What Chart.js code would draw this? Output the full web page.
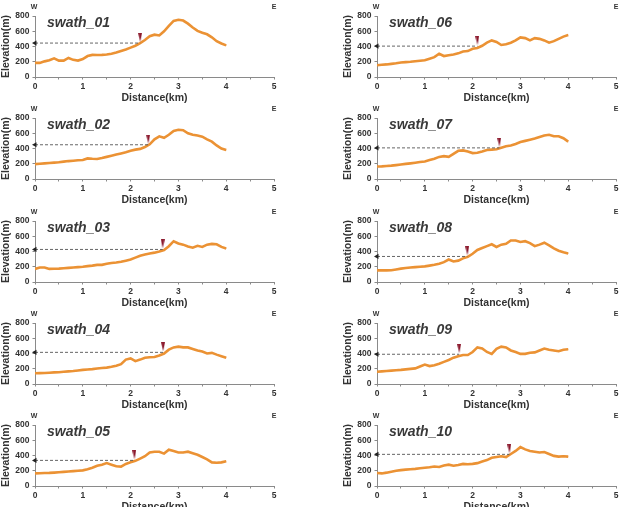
<!DOCTYPE html>
<html>
<head>
<meta charset="utf-8">
<script src="https://cdn.jsdelivr.net/npm/chart.js@4.4.1/dist/chart.umd.min.js"></script>
<style>
  body { margin: 0; background: #fff; width: 620px; height: 507px; overflow: hidden; position: relative; }
  canvas.panel { position: absolute; }
</style>
</head>
<body>
<script>
// Distance along the profile (km)
const distance = [0, 0.1, 0.2, 0.3, 0.4, 0.5, 0.6, 0.7, 0.8, 0.9, 1.0, 1.1, 1.2, 1.3, 1.4, 1.5, 1.6, 1.7, 1.8, 1.9, 2.0,
                  2.1, 2.2, 2.3, 2.4, 2.5, 2.6, 2.7, 2.8, 2.9, 3.0, 3.1, 3.2, 3.3, 3.4, 3.5, 3.6, 3.7, 3.8, 3.9, 4.0];

// Elevation (m) for each swath
const swath01 = [185, 185, 205, 220, 245, 215, 215, 250, 225, 215, 235, 275, 290, 288, 290, 295, 305, 320, 340, 360, 385,
                 410, 445, 485, 535, 555, 545, 600, 670, 735, 750, 740, 700, 650, 605, 580, 560, 520, 470, 440, 415];
const swath02 = [195, 200, 205, 210, 215, 220, 228, 235, 240, 245, 250, 270, 265, 262, 275, 290, 305, 320, 335, 350, 370,
                 385, 395, 420, 455, 520, 560, 540, 580, 630, 645, 640, 600, 580, 570, 555, 520, 490, 440, 400, 380];
const swath03 = [172, 190, 190, 172, 173, 175, 180, 185, 190, 195, 200, 208, 215, 225, 225, 240, 250, 255, 265, 280, 295,
                 320, 345, 360, 375, 385, 400, 420, 470, 535, 505, 490, 465, 450, 475, 460, 490, 500, 495, 460, 440];
const swath04 = [140, 142, 145, 148, 152, 155, 160, 165, 170, 178, 185, 190, 195, 203, 210, 215, 225, 240, 260, 320, 335,
                 300, 320, 345, 350, 355, 375, 400, 450, 480, 490, 480, 480, 460, 440, 425, 400, 408, 385, 365, 345];
const swath05 = [165, 167, 170, 172, 176, 180, 185, 190, 195, 200, 205, 220, 240, 265, 280, 300, 280, 260, 255, 290, 310,
                 330, 360, 390, 440, 450, 450, 425, 475, 460, 440, 440, 450, 430, 410, 380, 350, 310, 305, 310, 325];
const swath06 = [155, 160, 165, 172, 180, 190, 195, 200, 207, 213, 220, 240, 260, 305, 275, 285, 295, 310, 335, 340, 370,
                 380, 410, 450, 480, 460, 420, 430, 450, 480, 520, 510, 480, 510, 500, 480, 450, 470, 500, 530, 550];
const swath07 = [163, 165, 170, 175, 182, 190, 198, 205, 213, 222, 230, 248, 265, 290, 300, 290, 330, 370, 375, 360, 340,
                 345, 360, 380, 385, 390, 410, 430, 440, 460, 485, 500, 515, 530, 550, 570, 580, 560, 560, 535, 490];
const swath08 = [152, 152, 153, 155, 165, 175, 183, 190, 195, 200, 205, 215, 225, 240, 260, 295, 270, 280, 310, 330, 370,
                 420, 445, 470, 495, 460, 490, 500, 545, 545, 525, 535, 510, 470, 490, 515, 480, 440, 410, 390, 375];
const swath09 = [160, 165, 170, 175, 180, 185, 192, 198, 205, 230, 255, 235, 245, 265, 290, 315, 345, 365, 380, 380, 420,
                 480, 465, 420, 395, 460, 490, 480, 440, 420, 395, 395, 410, 415, 440, 465, 450, 440, 430, 450, 455];
const swath10 = [170, 165, 175, 188, 200, 208, 215, 220, 225, 232, 240, 245, 255, 250, 270, 280, 265, 275, 290, 285, 290,
                 300, 320, 340, 370, 380, 390, 380, 420, 460, 510, 480, 460, 450, 440, 445, 420, 395, 385, 390, 385];

const swathNames = ['swath_01', 'swath_02', 'swath_03', 'swath_04', 'swath_05',
                    'swath_06', 'swath_07', 'swath_08', 'swath_09', 'swath_10'];
const profiles = [swath01, swath02, swath03, swath04, swath05, swath06, swath07, swath08, swath09, swath10];

// Red marker position (km) and the elevation of the dashed arrow line (m)
const markerKm = [2.2, 2.37, 2.67, 2.68, 2.08, 2.1, 2.56, 1.89, 1.72, 2.77];
const arrowLevel = [445, 449, 427, 415, 336, 405, 408, 335, 390, 415];

const xTicks = [0, 1, 2, 3, 4, 5];
const yTicks = [0, 200, 400, 600, 800];

const FONT = "'Liberation Sans', Arial, sans-serif";
const TEXT = '#333';
const AXIS = '#8a8a8a';

// Narrow downward wedge used for the red marker
function makeWedge() {
    const c = document.createElement('canvas');
    c.width = 4; c.height = 9;
    const g = c.getContext('2d');
    g.fillStyle = '#8c1a2e';
    g.beginPath();
    g.moveTo(0, 0);
    g.lineTo(4, 0);
    g.lineTo(2, 9);
    g.closePath();
    g.fill();
    return c;
}
const wedge = makeWedge();

// W / E labels and the swath name
const labelsPlugin = {
    id: 'panelLabels',
    afterDraw(chart, args, opts) {
        const { ctx, chartArea, scales } = chart;
        ctx.save();
        ctx.fillStyle = TEXT;
        ctx.textBaseline = 'middle';
        ctx.textAlign = 'center';
        ctx.font = `bold 7px ${FONT}`;
        ctx.fillText('W', chartArea.left - 1, chartArea.top - 9);
        ctx.fillText('E', scales.x.getPixelForValue(5), chartArea.top - 9);
        ctx.textAlign = 'left';
        ctx.font = `italic bold 14px ${FONT}`;
        ctx.fillStyle = '#3a3a3a';
        ctx.fillText(opts.name, chartArea.left + 12, chartArea.top + 7);
        ctx.restore();
    }
};

function drawPanel(i) {
    const col = i < 5 ? 0 : 1;
    const row = i % 5;
    const canvas = document.createElement('canvas');
    canvas.className = 'panel';
    canvas.width = 280;
    canvas.height = 104;
    canvas.style.left = (col === 0 ? 0 : 342) + 'px';
    canvas.style.top = Math.round(row * 102.3) + 'px';
    document.body.appendChild(canvas);

    const profile = profiles[i];
    const points = distance.map((d, k) => ({ x: d, y: profile[k] }));
    const lvl = arrowLevel[i];
    const mk = markerKm[i];

    new Chart(canvas.getContext('2d'), {
        type: 'line',
        data: {
            datasets: [
                {
                    // dashed arrow line
                    data: [{ x: 0, y: lvl }, { x: mk, y: lvl }],
                    borderColor: '#555',
                    borderWidth: 0.9,
                    borderDash: [3, 2],
                    pointStyle: 'triangle',
                    pointRadius: [3, 0],
                    pointRotation: [-90, 0],
                    pointBackgroundColor: '#222',
                    pointBorderWidth: 0,
                    clip: false
                },
                {
                    // swath band
                    data: points,
                    borderColor: '#eb9234',
                    borderWidth: 2.6,
                    pointRadius: 0,
                    tension: 0
                },
                {
                    // mean profile
                    data: points,
                    borderColor: '#d56c12',
                    borderWidth: 1,
                    pointRadius: 0,
                    tension: 0
                },
                {
                    // red marker
                    type: 'scatter',
                    data: [{ x: mk, y: lvl + 75 }],
                    pointStyle: wedge,
                    clip: false
                }
            ]
        },
        options: {
            responsive: false,
            animation: false,
            events: [],
            layout: { padding: { top: 16, right: 6, left: 0, bottom: 0 } },
            plugins: {
                legend: { display: false },
                tooltip: { enabled: false },
                panelLabels: { name: swathNames[i] }
            },
            scales: {
                x: {
                    type: 'linear',
                    min: 0,
                    max: 5,
                    afterBuildTicks: s => {
                        s.ticks = [];
                        xTicks.forEach(v => {
                            s.ticks.push({ value: v });
                            if (v < 5) s.ticks.push({ value: v + 0.5 });
                        });
                    },
                    ticks: {
                        callback: v => xTicks.includes(v) ? v : '',
                        font: { family: FONT, size: 8.5, weight: 'bold' },
                        color: TEXT,
                        padding: 2,
                        maxRotation: 0,
                        autoSkip: false
                    },
                    grid: { drawOnChartArea: false, drawTicks: true, tickLength: 2.5, color: AXIS },
                    border: { color: AXIS, width: 1 },
                    title: {
                        display: true,
                        text: 'Distance(km)',
                        font: { family: FONT, size: 10.5, weight: 'bold' },
                        color: TEXT,
                        padding: { top: 0, bottom: 0 }
                    },
                    afterFit: s => { s.height = 27; }
                },
                y: {
                    min: 0,
                    max: 800,
                    afterBuildTicks: s => { s.ticks = yTicks.map(v => ({ value: v })); },
                    ticks: {
                        font: { family: FONT, size: 8.5, weight: 'bold' },
                        color: TEXT,
                        padding: 3
                    },
                    grid: { drawOnChartArea: false, drawTicks: true, tickLength: 2.5, color: AXIS },
                    border: { color: AXIS, width: 1 },
                    title: {
                        display: true,
                        text: 'Elevation(m)',
                        font: { family: FONT, size: 10.5, weight: 'bold' },
                        color: TEXT,
                        padding: { top: 0, bottom: 1 }
                    },
                    afterFit: s => { s.width = 35; }
                }
            }
        },
        plugins: [labelsPlugin]
    });
}

profiles.forEach((p, i) => drawPanel(i));
</script>
</body>
</html>
